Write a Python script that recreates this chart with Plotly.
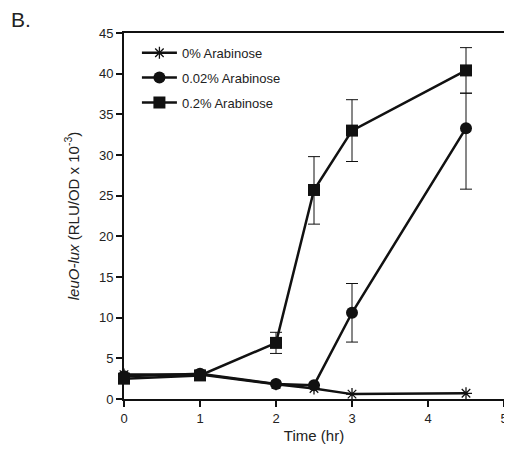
import plotly.graph_objects as go

time = [0, 1, 2, 2.5, 3, 4.5]
ara_0 = [3.0, 3.0, 1.8, 1.3, 0.6, 0.7]
ara_002 = [2.8, 3.1, 1.85, 1.7, 10.6, 33.3]
ara_002_err_hi = [0, 0, 0, 0, 3.6, 4.3]
ara_002_err_lo = [0, 0, 0, 0, 3.6, 7.5]
ara_02 = [2.5, 2.9, 6.9, 25.7, 33.0, 40.4]
ara_02_err_hi = [0, 0, 1.3, 4.1, 3.8, 2.8]
ara_02_err_lo = [0, 0, 1.3, 4.2, 3.8, 2.8]

names = ["0% Arabinose", "0.02% Arabinose", "0.2% Arabinose"]
x_ticks = [0, 1, 2, 3, 4, 5]
y_ticks = [0, 5, 10, 15, 20, 25, 30, 35, 40, 45]

FONT = "Liberation Sans, Arial"

fig = go.Figure()
fig.add_trace(go.Scatter(
    x=time, y=ara_0, name=names[0], mode="lines+markers", legendgroup="a",
    line=dict(color="#111", width=2.5),
    marker=dict(symbol="asterisk-open", size=10, color="#111", line=dict(width=1.3, color="#111")),
    cliponaxis=False,
))
fig.add_trace(go.Scatter(
    x=time, y=ara_002, name=names[1], mode="lines+markers", legendgroup="b",
    line=dict(color="#111", width=2.5),
    marker=dict(symbol="circle", size=12, color="#111"),
    error_y=dict(type="data", symmetric=False, array=ara_002_err_hi, arrayminus=ara_002_err_lo,
                 color="#111", thickness=1, width=6),
    cliponaxis=False,
))
fig.add_trace(go.Scatter(
    x=time, y=ara_02, name=names[2], mode="lines+markers", legendgroup="c",
    line=dict(color="#111", width=2.5),
    marker=dict(symbol="square", size=12, color="#111"),
    error_y=dict(type="data", symmetric=False, array=ara_02_err_hi, arrayminus=ara_02_err_lo,
                 color="#111", thickness=1, width=6),
    cliponaxis=False,
))

axis_common = dict(showgrid=False, zeroline=False, showline=True, linecolor="#111", linewidth=2,
                   ticks="outside", ticklen=6, tickwidth=2, tickcolor="#111",
                   tickfont=dict(family=FONT, size=13, color="#222"))
fig.update_xaxes(range=[0, 5], tickvals=x_ticks, mirror=True,
                 title=dict(text="Time (hr)", font=dict(family=FONT, size=15, color="#222"), standoff=6),
                 **axis_common)
fig.update_yaxes(range=[0, 45], tickvals=y_ticks, mirror=True,
                 title=dict(text="<i>leuO-lux</i> (RLU/OD x 10<sup>-3</sup>)",
                            font=dict(family=FONT, size=15, color="#222"), standoff=16),
                 **axis_common)

fig.add_annotation(text="B.", xref="paper", yref="paper", x=-0.302, y=1.0, xanchor="left", yanchor="bottom",
                   showarrow=False, font=dict(family=FONT, size=21, color="#222"))

fig.update_layout(
    width=504, height=448,
    margin=dict(l=116, r=4, t=25, b=57),
    paper_bgcolor="white", plot_bgcolor="white",
    legend=dict(x=0.034, y=0.987, xanchor="left", yanchor="top", bgcolor="rgba(0,0,0,0)",
                font=dict(family=FONT, size=13, color="#222"),
                itemwidth=35, tracegroupgap=5),
    showlegend=True,
)

fig.write_html("out.html")
